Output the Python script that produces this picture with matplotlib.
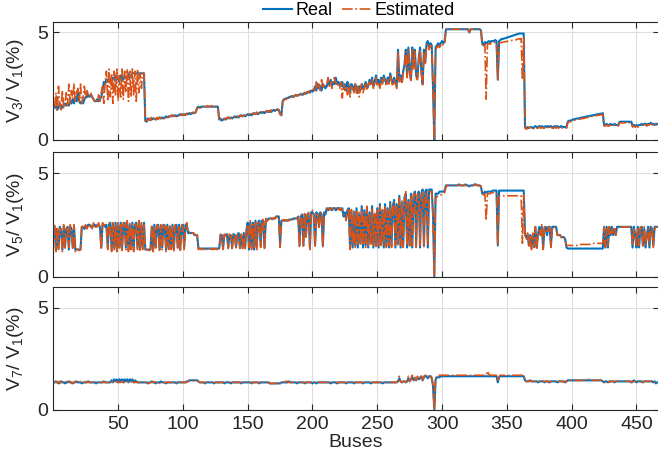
import numpy as np
import matplotlib
matplotlib.use("Agg")
import matplotlib.pyplot as plt

plt.rcParams['font.family'] = ['Liberation Sans', 'DejaVu Sans']
plt.rcParams['mathtext.default'] = 'regular'

# ---------------- data (bus 1..466) ----------------
v3_real = [
    1.5,1.6,1.4,1.5,1.7,1.6,1.5,1.6,1.7,1.6,
    1.7,1.6,1.8,1.7,1.9,1.7,2.0,1.8,2.3,1.8,
    1.7,1.8,1.7,1.9,2.0,2.0,2.1,2.0,2.1,2.0,
    1.9,1.8,1.8,1.9,1.8,1.9,2.0,2.3,2.7,2.6,
    2.8,2.7,2.9,2.8,2.7,2.9,2.8,3.0,2.8,2.9,
    2.7,3.0,2.9,2.8,3.0,2.9,2.8,3.1,2.9,3.0,
    3.1,3.1,3.1,3.1,3.1,3.1,3.1,3.1,3.1,3.1,
    0.9,0.85,1.0,0.95,1.0,0.95,1.0,1.0,0.95,1.0,
    1.0,1.05,1.0,1.05,1.0,1.05,1.1,1.05,1.1,1.1,
    1.1,1.15,1.1,1.15,1.1,1.15,1.15,1.2,1.15,1.2,
    1.15,1.2,1.2,1.2,1.25,1.2,1.25,1.25,1.25,1.3,
    1.5,1.55,1.5,1.55,1.55,1.55,1.55,1.55,1.55,1.55,
    1.55,1.55,1.55,1.55,1.55,1.55,1.55,0.95,1.0,0.9,
    0.95,1.0,0.95,1.0,1.05,1.0,1.05,1.0,1.05,1.1,
    1.05,1.1,1.05,1.1,1.15,1.1,1.15,1.1,1.15,1.2,
    1.15,1.2,1.15,1.2,1.25,1.2,1.25,1.2,1.25,1.3,
    1.25,1.3,1.25,1.3,1.35,1.3,1.35,1.3,1.35,1.4,
    1.35,1.4,1.4,1.4,1.2,1.15,1.8,1.9,1.9,1.95,
    1.95,2.0,2.0,2.05,2.0,2.05,2.1,2.05,2.1,2.1,
    2.15,2.1,2.15,2.2,2.15,2.2,2.25,2.2,2.3,2.25,
    2.3,2.5,2.3,2.6,2.4,2.5,2.3,2.6,2.5,2.4,
    2.5,2.7,2.6,2.8,2.5,2.7,2.6,2.9,2.6,2.7,
    2.6,2.5,2.7,2.4,2.6,2.3,2.7,2.5,2.2,2.6,
    2.5,2.3,2.6,2.4,2.2,2.5,2.3,2.6,2.4,2.5,
    2.7,2.4,2.5,2.8,2.6,2.9,2.5,2.7,3.0,2.6,
    2.8,2.5,2.9,2.7,3.0,2.8,2.6,2.9,2.7,3.1,
    2.8,2.6,2.9,2.7,2.5,4.2,2.8,3.0,2.7,3.2,
    3.5,4.2,3.0,4.3,3.2,2.8,4.3,3.4,4.2,3.0,
    2.9,3.8,4.3,3.2,2.6,4.2,3.6,4.5,4.6,4.3,
    4.5,4.4,2.5,0.0,4.3,4.4,4.5,4.4,4.5,4.6,
    4.5,4.6,5.15,5.15,5.15,5.15,5.15,5.15,5.15,5.15,
    5.15,5.15,5.15,5.15,5.15,5.15,5.15,5.15,5.15,5.15,
    5.0,5.15,5.15,5.15,5.15,5.15,5.15,5.15,5.15,5.1,
    4.5,4.4,4.55,4.5,4.55,4.6,4.55,4.6,4.6,4.6,
    4.65,4.6,2.8,4.6,4.65,4.7,4.7,4.72,4.74,4.76,
    4.78,4.8,4.82,4.84,4.86,4.88,4.9,4.92,4.94,4.95,
    4.95,4.95,4.95,0.6,0.55,0.6,0.55,0.6,0.6,0.55,
    0.6,0.65,0.6,0.6,0.65,0.6,0.65,0.6,0.6,0.65,
    0.6,0.65,0.6,0.65,0.6,0.6,0.65,0.6,0.65,0.6,
    0.6,0.65,0.6,0.6,0.6,0.6,0.85,0.9,0.9,0.92,
    0.95,0.97,0.98,1.0,1.0,1.02,1.03,1.05,1.05,1.07,
    1.08,1.1,1.1,1.12,1.13,1.15,1.15,1.17,1.18,1.2,
    1.2,1.22,1.22,1.25,0.7,0.7,0.75,0.7,0.7,0.75,
    0.7,0.7,0.75,0.7,0.7,0.7,0.85,0.85,0.85,0.85,
    0.85,0.85,0.85,0.85,0.85,0.85,0.65,0.7,0.65,0.7,
    0.65,0.7,0.7,0.75,0.7,0.75,0.75,0.7,0.75,0.75,
    0.8,0.75,0.75,0.7,0.75,0.75,
]
v3_est = [
    1.5,2.2,1.4,2.5,1.6,1.4,2.3,1.5,1.7,2.2,
    1.6,2.6,1.7,2.3,1.9,2.6,1.8,2.2,2.4,1.8,
    2.6,1.7,2.0,2.5,1.9,2.3,2.1,2.0,2.2,2.0,
    1.9,1.8,1.9,1.8,2.1,1.8,2.2,2.5,1.7,2.7,
    3.2,1.8,3.3,2.0,3.1,1.7,3.2,2.1,3.3,1.8,
    3.0,2.0,3.3,1.9,3.2,2.2,3.3,1.8,3.2,2.0,
    3.3,2.1,3.2,1.8,3.3,2.2,3.1,2.4,3.1,3.1,
    0.85,0.95,0.9,1.0,0.9,1.05,0.95,1.0,0.9,1.05,
    0.95,1.05,1.0,1.0,1.05,1.0,1.1,1.05,1.05,1.1,
    1.15,1.1,1.15,1.1,1.15,1.1,1.2,1.15,1.2,1.15,
    1.2,1.15,1.25,1.2,1.2,1.25,1.2,1.3,1.25,1.3,
    1.5,1.5,1.55,1.5,1.55,1.6,1.55,1.55,1.6,1.55,
    1.55,1.6,1.55,1.55,1.6,1.55,1.55,0.9,0.95,0.95,
    1.0,0.95,1.0,1.05,1.0,1.05,1.0,1.05,1.1,1.05,
    1.1,1.05,1.1,1.15,1.1,1.1,1.15,1.15,1.1,1.15,
    1.2,1.15,1.2,1.25,1.2,1.2,1.3,1.25,1.2,1.25,
    1.3,1.25,1.3,1.35,1.3,1.35,1.3,1.4,1.35,1.35,
    1.4,1.35,1.45,1.4,1.2,1.15,1.8,1.85,1.9,1.9,
    2.0,1.95,2.05,2.0,2.05,2.0,2.1,2.1,2.05,2.15,
    2.1,2.2,2.1,2.15,2.2,2.25,2.2,2.3,2.25,2.3,
    2.4,2.3,2.7,2.4,2.6,2.3,2.8,2.5,2.4,2.6,
    2.6,2.9,2.5,2.7,2.4,2.8,2.9,2.6,2.7,2.5,
    2.4,2.7,1.95,2.6,2.3,2.5,2.1,2.6,2.0,2.5,
    2.4,2.2,2.6,2.1,2.5,2.0,2.4,2.6,2.2,2.4,
    2.6,2.3,2.6,2.7,2.5,2.8,2.4,2.6,2.9,2.5,
    2.7,2.4,2.8,2.6,2.9,2.7,2.5,2.8,2.6,3.0,
    2.7,2.5,2.8,2.6,2.4,4.1,2.7,2.9,2.6,3.1,
    3.4,4.1,2.9,4.2,3.1,2.7,4.2,3.3,4.1,2.9,
    2.8,3.7,4.2,3.1,2.5,4.1,3.5,4.4,4.5,4.2,
    4.4,4.3,2.4,0.0,4.2,4.3,4.4,4.3,4.4,4.5,
    4.4,4.5,5.1,5.15,5.15,5.15,5.15,5.15,5.15,5.15,
    5.15,5.15,5.15,5.15,5.15,5.15,5.15,5.15,5.15,5.15,
    5.0,5.15,5.15,5.15,5.15,5.15,5.15,5.15,5.15,5.1,
    4.4,4.35,4.45,1.9,4.45,4.5,4.45,4.5,4.5,4.5,
    4.55,4.5,2.8,4.5,4.52,4.54,4.55,4.56,4.57,4.58,
    4.6,4.61,4.62,4.63,4.64,4.65,4.66,4.68,4.7,4.7,
    4.72,2.8,4.75,0.55,0.5,0.55,0.55,0.6,0.55,0.5,
    0.55,0.6,0.55,0.55,0.6,0.55,0.6,0.55,0.55,0.6,
    0.55,0.6,0.55,0.6,0.55,0.55,0.6,0.55,0.6,0.55,
    0.55,0.6,0.55,0.55,0.55,0.55,0.8,0.85,0.85,0.87,
    0.9,0.92,0.93,0.95,0.95,0.97,0.98,1.0,1.0,1.02,
    1.03,1.05,1.05,1.07,1.08,1.1,1.1,1.12,1.13,1.15,
    1.15,1.17,1.17,1.2,0.65,0.65,0.7,0.65,0.65,0.7,
    0.65,0.65,0.7,0.65,0.65,0.65,0.8,0.8,0.8,0.8,
    0.8,0.8,0.8,0.8,0.8,0.8,0.6,0.65,0.6,0.65,
    0.6,0.65,0.65,0.7,0.65,0.7,0.7,0.65,0.7,0.7,
    0.75,0.7,0.7,0.65,0.7,0.7,
]
v5_real = [
    2.4,1.3,2.3,1.4,2.4,2.2,1.3,2.4,1.4,2.3,
    2.4,1.3,2.4,2.3,1.4,2.4,1.3,1.3,1.3,1.3,
    1.3,2.4,2.4,2.3,2.4,2.4,2.5,2.5,2.4,2.4,
    2.5,2.5,2.4,2.5,2.5,2.4,1.4,2.5,2.5,2.4,
    2.5,1.4,2.5,2.6,1.3,2.5,1.4,2.6,1.3,2.5,
    1.4,2.6,1.3,2.5,2.6,1.4,2.6,1.3,2.5,1.4,
    2.6,1.3,2.5,2.6,1.4,2.6,1.3,2.5,1.4,2.6,
    1.3,1.3,1.3,1.3,1.3,2.4,1.3,2.5,1.4,2.4,
    2.5,1.3,2.4,1.4,2.5,2.4,1.3,2.5,1.4,2.4,
    1.4,2.5,1.3,2.4,2.5,1.4,2.5,1.3,2.4,2.5,
    1.4,2.5,2.5,2.1,2.1,2.1,2.1,2.1,2.0,2.0,
    2.0,1.35,1.35,1.35,1.35,1.35,1.35,1.35,1.35,1.35,
    1.35,1.35,1.35,1.35,1.35,1.35,1.35,1.35,2.0,2.0,
    1.35,2.0,2.0,2.05,1.4,2.0,2.0,1.4,2.05,2.0,
    1.4,2.0,2.1,1.4,2.0,1.4,2.1,1.4,2.2,2.6,
    1.3,2.6,1.4,2.6,1.3,2.7,1.4,2.6,2.7,1.5,
    2.7,2.7,1.4,2.7,2.7,2.8,2.8,2.8,2.8,2.8,
    2.8,2.9,2.9,2.9,1.5,2.7,2.7,2.7,2.7,2.7,
    2.7,2.75,2.75,2.75,2.8,2.8,2.8,2.8,2.9,1.5,
    2.9,3.0,1.5,3.0,2.0,3.0,3.0,1.4,3.1,3.1,
    3.0,1.5,3.1,3.0,2.4,3.1,3.0,1.5,3.1,3.0,
    3.3,3.2,3.3,3.3,3.2,3.3,3.3,3.2,3.3,3.3,
    3.3,3.2,3.3,2.9,3.1,2.8,3.2,3.3,1.4,3.2,
    1.4,3.1,1.5,3.3,1.4,3.0,1.6,3.4,1.4,3.2,
    1.5,3.3,1.4,3.1,1.6,3.4,1.4,3.0,1.5,3.3,
    1.4,3.5,1.6,3.2,1.4,3.5,1.5,3.3,1.4,3.6,
    1.5,3.4,3.7,1.4,3.5,1.6,3.9,1.4,3.6,1.5,
    3.8,4.0,1.4,3.7,1.5,4.0,1.4,3.9,4.1,1.5,
    3.9,4.1,1.4,4.0,4.2,1.5,4.1,4.2,1.4,4.2,
    4.2,4.2,3.0,0.0,4.0,4.0,4.0,4.1,4.1,4.1,
    4.1,4.15,4.4,4.4,4.4,4.4,4.4,4.4,4.4,4.4,
    4.4,4.4,4.45,4.4,4.4,4.4,4.4,4.45,4.4,4.4,
    4.35,4.4,4.4,4.4,4.45,4.45,4.4,4.4,4.4,4.35,
    4.0,4.0,4.1,4.05,4.1,4.1,4.1,4.1,4.15,4.15,
    4.15,4.15,1.5,4.15,4.15,4.15,4.15,4.15,4.15,4.15,
    4.15,4.15,4.15,4.15,4.15,4.15,4.15,4.15,4.15,4.15,
    4.15,4.15,4.15,2.0,1.9,2.0,1.5,2.0,1.4,2.0,
    1.5,2.4,1.4,2.0,2.4,2.0,2.4,1.4,2.3,2.4,
    2.0,2.4,2.4,1.5,2.4,2.4,2.4,2.4,2.0,2.0,
    2.0,1.9,1.9,1.9,1.8,1.4,1.35,1.35,1.35,1.35,
    1.35,1.35,1.35,1.35,1.35,1.35,1.35,1.35,1.35,1.35,
    1.35,1.35,1.35,1.35,1.35,1.35,1.35,1.35,1.35,1.35,
    1.35,1.35,1.35,1.35,2.4,1.4,2.4,1.4,2.4,2.0,
    2.4,2.0,2.3,2.0,2.4,2.4,2.4,2.4,2.4,2.4,
    2.4,2.4,2.4,2.4,2.4,2.4,1.4,2.4,2.0,1.4,
    2.4,1.4,2.3,2.4,1.5,2.3,1.4,2.0,2.4,1.4,
    2.4,2.3,1.5,2.4,2.4,2.4,
]
v5_est = [
    2.5,1.2,2.4,1.3,2.3,2.3,1.2,2.5,1.3,2.4,
    2.3,1.4,2.5,2.2,1.3,2.5,1.2,1.35,1.3,1.25,
    1.3,2.5,2.3,2.4,2.5,2.3,2.5,2.4,2.5,2.3,
    2.6,2.4,2.5,2.4,2.6,2.3,1.3,2.6,2.4,2.5,
    2.4,1.3,2.6,2.5,1.2,2.6,1.3,2.5,1.2,2.6,
    1.3,2.5,1.2,2.6,2.5,1.3,2.7,1.2,2.6,1.3,
    2.5,1.2,2.6,2.5,1.3,2.7,1.2,2.6,1.3,2.5,
    1.25,1.3,1.3,1.25,1.3,2.5,1.2,2.4,1.3,2.5,
    2.4,1.2,2.5,1.3,2.4,2.5,1.2,2.4,1.3,2.5,
    1.3,2.4,1.2,2.5,2.4,1.3,2.4,1.2,2.5,2.4,
    1.3,2.4,2.6,2.1,2.15,2.05,2.1,2.1,2.05,2.0,
    2.0,1.3,1.35,1.3,1.35,1.3,1.35,1.3,1.35,1.3,
    1.35,1.3,1.35,1.3,1.35,1.3,1.35,1.3,2.05,1.95,
    1.3,2.05,1.95,2.0,1.35,2.05,1.95,1.35,2.0,2.05,
    1.35,2.05,2.0,1.35,2.05,1.35,2.0,1.35,2.3,2.5,
    1.4,2.7,1.3,2.5,1.4,2.6,1.3,2.7,2.6,1.4,
    2.6,2.8,1.3,2.8,2.6,2.75,2.85,2.8,2.75,2.85,
    2.8,2.85,2.9,2.85,1.4,2.75,2.7,2.75,2.7,2.75,
    2.7,2.7,2.8,2.75,2.75,2.8,2.85,2.8,2.85,1.4,
    3.0,2.9,1.4,3.1,1.9,2.9,3.1,1.3,3.0,3.2,
    3.1,1.4,3.0,3.1,2.3,3.0,3.1,1.4,3.0,3.1,
    3.2,3.3,3.2,3.3,3.3,3.2,3.3,3.3,3.2,3.3,
    3.2,3.3,3.2,3.0,3.0,2.7,3.3,3.2,1.3,3.3,
    1.5,3.2,1.4,3.2,1.5,3.1,1.5,3.3,1.5,3.1,
    1.4,3.4,1.5,3.0,1.5,3.3,1.5,3.1,1.4,3.2,
    1.5,3.4,1.5,3.3,1.5,3.4,1.4,3.2,1.5,3.5,
    1.4,3.5,3.6,1.5,3.4,1.5,3.8,1.5,3.7,1.4,
    3.7,4.1,1.5,3.6,1.4,3.9,1.5,4.0,4.0,1.4,
    4.0,4.0,1.5,3.9,4.1,1.4,4.0,4.1,1.5,4.1,
    4.1,4.1,2.9,0.0,3.8,3.85,3.9,3.9,3.95,3.95,
    4.0,4.05,4.35,4.4,4.4,4.4,4.4,4.4,4.4,4.4,
    4.4,4.4,4.4,4.4,4.4,4.4,4.4,4.4,4.4,4.4,
    4.35,4.4,4.4,4.4,4.4,4.45,4.4,4.4,4.4,4.35,
    3.95,3.95,4.0,2.7,4.0,4.0,4.0,4.05,4.05,4.05,
    4.05,4.05,1.5,3.9,3.9,3.9,3.9,3.9,3.9,3.9,
    3.9,3.9,3.9,3.9,3.9,3.9,3.9,3.9,3.9,3.9,
    3.9,1.6,3.95,2.0,1.8,2.1,1.4,2.0,1.3,2.1,
    1.4,2.4,1.3,2.1,2.3,2.0,2.5,1.3,2.4,2.3,
    2.1,2.3,2.4,1.4,2.3,2.4,2.4,2.3,2.0,2.0,
    2.0,1.9,1.85,1.9,1.8,1.5,1.5,1.5,1.5,1.5,
    1.5,1.5,1.5,1.5,1.5,1.5,1.55,1.55,1.55,1.55,
    1.55,1.55,1.55,1.55,1.6,1.6,1.6,1.6,1.6,1.6,
    1.6,1.6,1.6,1.6,2.4,1.4,2.3,1.5,2.4,2.0,
    2.3,2.1,2.4,2.0,2.3,2.4,2.4,2.4,2.4,2.4,
    2.4,2.4,2.4,2.4,2.4,2.3,1.5,2.3,2.1,1.5,
    2.3,1.5,2.4,2.3,1.4,2.4,1.5,2.1,2.3,1.5,
    2.3,2.4,1.4,2.3,2.4,2.4,
]
v7_real = [
    1.35,1.4,1.35,1.3,1.35,1.4,1.35,1.35,1.3,1.35,
    1.35,1.4,1.35,1.35,1.3,1.35,1.35,1.4,1.35,1.35,
    1.35,1.3,1.35,1.35,1.35,1.35,1.4,1.35,1.35,1.35,
    1.35,1.35,1.3,1.35,1.35,1.35,1.35,1.35,1.4,1.35,
    1.35,1.35,1.35,1.35,1.45,1.35,1.5,1.4,1.5,1.35,
    1.5,1.4,1.5,1.35,1.5,1.4,1.5,1.35,1.5,1.4,
    1.5,1.35,1.45,1.4,1.35,1.35,1.35,1.35,1.35,1.35,
    1.35,1.35,1.3,1.35,1.35,1.4,1.35,1.35,1.3,1.35,
    1.35,1.35,1.4,1.35,1.35,1.35,1.3,1.35,1.35,1.35,
    1.35,1.35,1.35,1.35,1.3,1.35,1.35,1.35,1.35,1.35,
    1.35,1.35,1.4,1.4,1.45,1.45,1.45,1.45,1.45,1.45,
    1.45,1.4,1.35,1.35,1.35,1.35,1.3,1.35,1.35,1.35,
    1.35,1.35,1.35,1.3,1.35,1.35,1.35,1.35,1.35,1.35,
    1.35,1.3,1.35,1.35,1.35,1.35,1.3,1.35,1.35,1.35,
    1.35,1.35,1.35,1.35,1.3,1.35,1.35,1.35,1.35,1.35,
    1.35,1.35,1.3,1.35,1.35,1.35,1.35,1.35,1.3,1.35,
    1.35,1.35,1.35,1.35,1.35,1.35,1.3,1.3,1.3,1.3,
    1.3,1.3,1.3,1.3,1.3,1.35,1.35,1.35,1.35,1.35,
    1.35,1.4,1.35,1.35,1.35,1.35,1.35,1.3,1.35,1.35,
    1.35,1.35,1.35,1.3,1.35,1.35,1.35,1.35,1.35,1.3,
    1.35,1.35,1.3,1.35,1.35,1.35,1.35,1.35,1.35,1.35,
    1.35,1.35,1.35,1.3,1.35,1.35,1.35,1.35,1.3,1.35,
    1.35,1.35,1.35,1.35,1.35,1.3,1.35,1.35,1.35,1.35,
    1.35,1.3,1.35,1.35,1.35,1.35,1.35,1.35,1.3,1.35,
    1.35,1.35,1.35,1.35,1.3,1.35,1.35,1.35,1.35,1.35,
    1.35,1.35,1.35,1.3,1.35,1.35,1.35,1.35,1.35,1.35,
    1.35,1.35,1.35,1.35,1.35,1.4,1.55,1.4,1.35,1.4,
    1.4,1.35,1.4,1.55,1.4,1.5,1.6,1.45,1.55,1.45,
    1.6,1.5,1.55,1.65,1.45,1.6,1.65,1.65,1.55,1.65,
    1.65,1.55,1.2,0.0,1.5,1.6,1.6,1.6,1.65,1.65,
    1.65,1.65,1.65,1.65,1.65,1.65,1.65,1.65,1.65,1.65,
    1.65,1.65,1.65,1.65,1.65,1.65,1.65,1.65,1.65,1.65,
    1.65,1.65,1.65,1.65,1.65,1.65,1.65,1.65,1.65,1.65,
    1.65,1.65,1.65,1.65,1.65,1.65,1.65,1.65,1.65,1.65,
    1.65,1.65,1.35,1.6,1.65,1.65,1.65,1.65,1.65,1.65,
    1.65,1.65,1.65,1.65,1.65,1.65,1.65,1.65,1.65,1.65,
    1.65,1.65,1.65,1.45,1.4,1.4,1.4,1.45,1.4,1.4,
    1.4,1.4,1.4,1.35,1.4,1.4,1.4,1.4,1.35,1.4,
    1.4,1.4,1.35,1.4,1.4,1.4,1.4,1.4,1.35,1.4,
    1.4,1.4,1.4,1.4,1.35,1.4,1.45,1.45,1.45,1.45,
    1.45,1.45,1.45,1.45,1.45,1.45,1.45,1.45,1.45,1.45,
    1.45,1.45,1.45,1.45,1.45,1.45,1.45,1.45,1.45,1.45,
    1.45,1.45,1.45,1.4,1.35,1.4,1.4,1.35,1.4,1.4,
    1.4,1.4,1.35,1.4,1.4,1.4,1.4,1.4,1.4,1.4,
    1.4,1.4,1.4,1.4,1.4,1.35,1.4,1.45,1.4,1.35,
    1.4,1.4,1.4,1.4,1.35,1.4,1.4,1.4,1.4,1.4,
    1.4,1.4,1.35,1.4,1.3,1.35,
]
v7_est = [
    1.4,1.35,1.35,1.4,1.3,1.35,1.4,1.35,1.35,1.4,
    1.35,1.35,1.4,1.3,1.35,1.35,1.4,1.35,1.35,1.35,
    1.4,1.35,1.35,1.35,1.35,1.4,1.35,1.35,1.35,1.35,
    1.35,1.4,1.35,1.35,1.35,1.35,1.35,1.35,1.35,1.35,
    1.35,1.35,1.35,1.4,1.35,1.4,1.35,1.35,1.4,1.35,
    1.35,1.35,1.4,1.35,1.35,1.35,1.4,1.35,1.35,1.35,
    1.4,1.35,1.35,1.35,1.35,1.35,1.35,1.35,1.35,1.35,
    1.35,1.4,1.35,1.3,1.35,1.35,1.35,1.4,1.35,1.35,
    1.35,1.3,1.35,1.35,1.35,1.35,1.35,1.35,1.35,1.35,
    1.35,1.35,1.35,1.3,1.35,1.35,1.35,1.35,1.35,1.35,
    1.35,1.35,1.35,1.4,1.45,1.45,1.45,1.45,1.45,1.45,
    1.45,1.4,1.35,1.35,1.35,1.35,1.35,1.35,1.35,1.35,
    1.35,1.35,1.35,1.35,1.35,1.35,1.35,1.35,1.35,1.35,
    1.35,1.35,1.35,1.35,1.35,1.35,1.35,1.35,1.35,1.35,
    1.35,1.35,1.35,1.35,1.35,1.35,1.35,1.35,1.35,1.35,
    1.35,1.35,1.35,1.35,1.35,1.35,1.35,1.35,1.35,1.35,
    1.35,1.35,1.35,1.35,1.35,1.35,1.3,1.3,1.3,1.3,
    1.3,1.3,1.3,1.3,1.3,1.35,1.35,1.35,1.4,1.4,
    1.4,1.35,1.35,1.35,1.35,1.35,1.35,1.35,1.35,1.35,
    1.35,1.35,1.35,1.35,1.35,1.35,1.35,1.35,1.35,1.35,
    1.35,1.35,1.35,1.35,1.35,1.35,1.35,1.35,1.35,1.35,
    1.35,1.35,1.35,1.35,1.35,1.35,1.35,1.35,1.35,1.35,
    1.35,1.35,1.35,1.35,1.35,1.35,1.35,1.35,1.35,1.35,
    1.35,1.35,1.35,1.35,1.35,1.35,1.35,1.35,1.35,1.35,
    1.35,1.35,1.35,1.35,1.35,1.35,1.35,1.35,1.35,1.35,
    1.35,1.35,1.35,1.35,1.35,1.35,1.35,1.35,1.35,1.35,
    1.35,1.35,1.35,1.35,1.35,1.45,1.65,1.4,1.35,1.4,
    1.4,1.35,1.45,1.65,1.4,1.55,1.7,1.45,1.6,1.45,
    1.65,1.5,1.6,1.7,1.45,1.65,1.7,1.7,1.6,1.7,
    1.7,1.6,1.2,0.0,1.55,1.65,1.65,1.7,1.7,1.7,
    1.7,1.7,1.7,1.7,1.7,1.7,1.7,1.7,1.7,1.7,
    1.7,1.7,1.7,1.7,1.7,1.7,1.7,1.7,1.7,1.7,
    1.7,1.7,1.7,1.7,1.7,1.7,1.7,1.7,1.7,1.7,
    1.7,1.7,1.7,1.7,1.9,1.75,1.7,1.7,1.7,1.7,
    1.7,1.7,1.4,1.65,1.7,1.7,1.7,1.7,1.7,1.7,
    1.7,1.7,1.7,1.7,1.7,1.7,1.7,1.7,1.7,1.7,
    1.7,1.7,1.7,1.45,1.4,1.4,1.45,1.4,1.4,1.4,
    1.4,1.4,1.4,1.4,1.4,1.35,1.4,1.4,1.4,1.4,
    1.4,1.35,1.4,1.4,1.4,1.4,1.4,1.35,1.4,1.4,
    1.4,1.4,1.4,1.35,1.4,1.4,1.45,1.45,1.45,1.45,
    1.45,1.45,1.45,1.45,1.45,1.45,1.45,1.45,1.45,1.45,
    1.45,1.45,1.5,1.45,1.45,1.45,1.45,1.45,1.45,1.45,
    1.45,1.45,1.45,1.4,1.4,1.35,1.4,1.4,1.35,1.4,
    1.4,1.4,1.4,1.4,1.4,1.4,1.4,1.4,1.4,1.4,
    1.4,1.4,1.4,1.4,1.4,1.4,1.35,1.4,1.45,1.4,
    1.4,1.4,1.4,1.35,1.4,1.4,1.4,1.4,1.4,1.4,
    1.4,1.4,1.4,1.35,1.4,1.35,
]

series = [(v3_real, v3_est, '3', 5.5), (v5_real, v5_est, '5', 6.0), (v7_real, v7_est, '7', 6.0)]
xticks = [50, 100, 150, 200, 250, 300, 350, 400, 450]
yticks = [0, 5]

BLUE = '#0072BD'
ORANGE = '#D95319'
DARK = '#262626'

W, H = 658, 453
fig = plt.figure(figsize=(W / 100, H / 100), dpi=100)

# axes rectangles in pixels (left, top, right, bottom)
rects = [(53.3, 21.7, 658.5, 140.0), (53.3, 152.3, 658.5, 276.5), (53.3, 287.3, 658.5, 410.0)]
axes = []
for (l, t, r, b) in rects:
    ax = fig.add_axes([l / W, 1 - b / H, (r - l) / W, (b - t) / H])
    axes.append(ax)

for i, (ax, (real, est, k, ytop)) in enumerate(zip(axes, series)):
    xr = np.arange(1, len(real) + 1)
    xe = np.arange(1, len(est) + 1)
    ax.plot(xr, real, color=BLUE, lw=1.5, label='Real', zorder=3)
    ax.plot(xe, est, color=ORANGE, lw=1.2, ls='-.', label='Estimated', zorder=4)
    ax.set_xlim(0, 467)
    ax.set_ylim(0, ytop)
    ax.set_yticks(yticks)
    ax.set_xticks(xticks)
    ax.grid(True, color='#dedede', lw=0.8, zorder=0)
    ax.set_axisbelow(True)
    ax.tick_params(direction='in', length=4, width=0.8, top=True, right=True,
                   colors=DARK, labelsize=14, pad=4)
    for s in ax.spines.values():
        s.set_color(DARK)
        s.set_linewidth(0.8)
    ax.set_ylabel(r'V$_{%s}$/ V$_1$(%%)' % k, fontsize=14, color=DARK)
    ax.yaxis.set_label_coords(-0.045, 0.5)
    if i < 2:
        ax.tick_params(labelbottom=False)

axes[2].set_xlabel('Buses', fontsize=14, color=DARK, labelpad=1)

leg = axes[0].legend(loc='lower center', bbox_to_anchor=(0.505, 0.96), ncol=2, frameon=False,
                     fontsize=13, handlelength=1.6, handletextpad=0.2, columnspacing=0.5,
                     borderaxespad=0.0)

fig.savefig('out.png', dpi=100)
